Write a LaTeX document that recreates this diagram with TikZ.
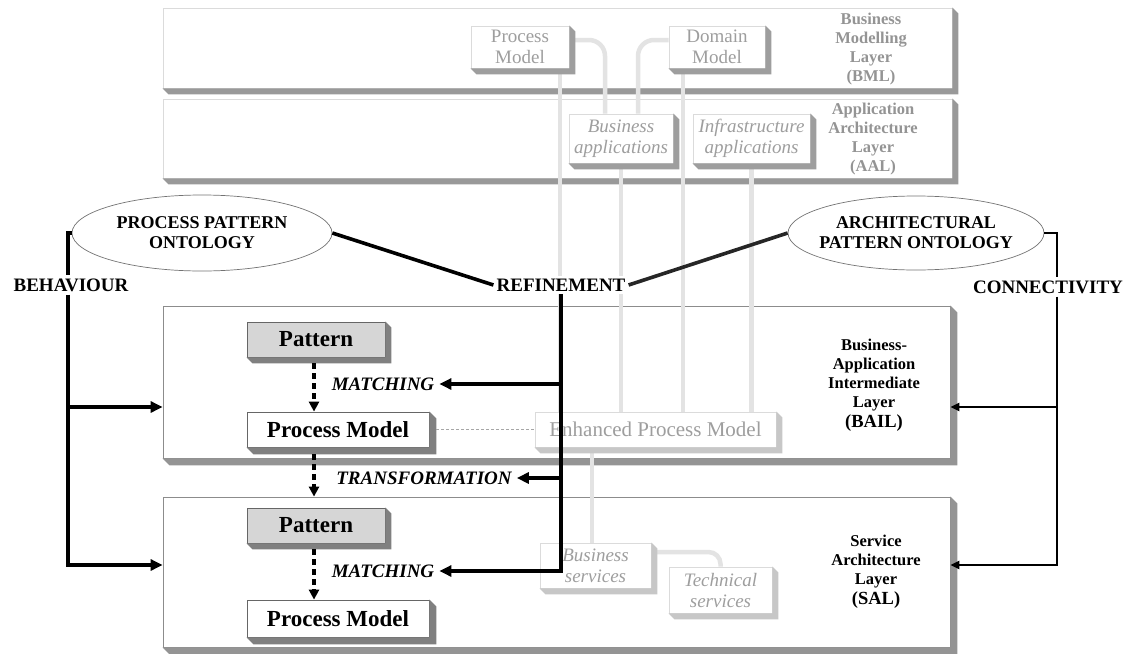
\documentclass[tikz,border=0pt]{standalone}
\usepackage{fontspec}
\setmainfont{Liberation Serif}
\usetikzlibrary{arrows.meta,shapes.geometric}
\newcommand\fsz[2]{\fontsize{#1}{#2}\selectfont}
\newcommand\mkdepth[3]{%
  \fill[#3] (#1.south west) -- ++(#2,#2) -- ([shift={(#2,#2)}]#1.south east)
    -- ([shift={(#2,#2)}]#1.north east) -- (#1.north east) -- (#1.south east) -- cycle;}
\pgfdeclarelayer{back}
\pgfdeclarelayer{mid}
\pgfsetlayers{back,mid,main}
\begin{document}
\begin{tikzpicture}[x=1pt,y=-1pt,
  fadelayer/.style={draw=black!14, line width=0.8pt, fill=white, inner sep=0pt},
  mainlayer/.style={draw=black!45, line width=0.8pt, fill=white, inner sep=0pt},
  fadebox/.style={draw=black!14, line width=0.8pt, fill=white, text=black!38, inner sep=0pt, align=center, font=\fsz{19}{21}},
  fadeit/.style={fadebox, font=\itshape\fsz{19}{21}},
  mainbox/.style={draw=black!60, line width=0.8pt, fill=white, inner sep=0pt, font=\bfseries\fsz{23}{26}},
  patbox/.style={mainbox, fill=black!16},
  onto/.style={ellipse, draw=black!55, line width=0.7pt, fill=white, inner ysep=0pt, inner xsep=-20pt, align=center, font=\bfseries\fsz{18}{20}},
  caplabel/.style={fill=white, inner sep=3pt, font=\bfseries\fsz{19}{21}},
  itlabel/.style={inner sep=5pt, font=\bfseries\itshape\fsz{19}{21}},
  layerlabel/.style={align=center, font=\bfseries\fsz{16.5}{19}},
  fadeline/.style={draw=black!11, line width=4.5pt},
  heavy/.style={draw=black, line width=3.6pt},
  heavyarrow/.style={heavy, -{Triangle[length=12pt,width=11pt]}},
  lightline/.style={draw=black, line width=2.2pt},
  lightarrow/.style={lightline, -{Triangle[length=9pt,width=8pt]}},
  dasharrow/.style={draw=black, line width=3.6pt, dash pattern=on 6pt off 4pt, -{Triangle[length=10pt,width=10pt]}},
]
\useasboundingbox (0,0) rectangle (1131,653);

% ---------- layers ----------
\begin{pgfonlayer}{back}
\node[fadelayer, minimum width=789, minimum height=80] (bml) at (557.5,48) {};
\mkdepth{bml}{6}{black!40}
\node[fadelayer, minimum width=789, minimum height=79] (aal) at (557.5,138.5) {};
\mkdepth{aal}{6}{black!40}
\node[mainlayer, minimum width=787, minimum height=152] (bail) at (556.5,382) {};
\mkdepth{bail}{7}{black!42}
\node[mainlayer, minimum width=787, minimum height=150] (sal) at (556.5,572) {};
\mkdepth{sal}{7}{black!42}
\node[layerlabel, text=black!42] (bmlL) at (871,49) {Business\\Modelling\\Layer\\(BML)};
\node[layerlabel, text=black!42] (aalL) at (873,139) {Application\\Architecture\\Layer\\(AAL)};
\node[layerlabel] (bailL) at (874,385) {Business-\\Application\\Intermediate\\Layer\\[1pt]{\fsz{18.5}{22}(BAIL)}};
\node[layerlabel] (salL) at (876,572) {Service\\Architecture\\Layer\\[1pt]{\fsz{18.5}{22}(SAL)}};
\end{pgfonlayer}

% ---------- faded boxes ----------
\node[fadebox, minimum width=98, minimum height=42] (tpm) at (520,47) {Process\\Model};
\mkdepth{tpm}{6}{black!38}
\node[fadebox, minimum width=96, minimum height=42] (tdm) at (717,47) {Domain\\Model};
\mkdepth{tdm}{6}{black!38}
\node[fadeit, minimum width=104, minimum height=49] (tba) at (621,138.5) {Business\\applications};
\mkdepth{tba}{6}{black!38}
\node[fadeit, minimum width=117, minimum height=49] (tia) at (751.5,138.5) {Infrastructure\\applications};
\mkdepth{tia}{6}{black!38}
\node[fadebox, minimum width=241, minimum height=35, font=\fsz{21}{23}] (epm) at (655.5,429.5) {Enhanced Process Model};
\mkdepth{epm}{6}{black!22}
\node[fadeit, minimum width=111, minimum height=45] (tbs) at (595.5,565.5) {Business\\services};
\mkdepth{tbs}{6}{black!22}
\node[fadeit, minimum width=103, minimum height=46] (tts) at (720.5,590) {Technical\\services};
\mkdepth{tts}{6}{black!22}

% ---------- faded connectors ----------
\coordinate (x560) at (560,0);
\coordinate (x592) at (592,0);
\coordinate (x605) at (605,0);
\coordinate (x638) at (638,0);
\coordinate (x683) at (683,0);
\begin{pgfonlayer}{mid}
\draw[fadeline, rounded corners=16pt] ([yshift=7pt]tpm.east) -| (tba.north -| x605);
\draw[fadeline, rounded corners=16pt] ([yshift=7pt]tdm.west) -| (tba.north -| x638);
\draw[fadeline] (tpm.south -| x560) -- (epm.north -| x560);
\draw[fadeline] (tba.south) -- (tba.south |- epm.north);
\draw[fadeline] (tdm.south -| x683) -- (epm.north -| x683);
\draw[fadeline] (tia.south) -- (tia.south |- epm.north);
\draw[fadeline] (epm.south -| x592) -- (tbs.north -| x592);
\draw[fadeline, rounded corners=12pt] ([yshift=13.5pt]tbs.east) -| (tts.north);
\end{pgfonlayer}

% ---------- ontologies and labels ----------
\node[onto, minimum width=260, minimum height=76] (ppo) at (202,233) {PROCESS PATTERN\\ONTOLOGY};
\node[onto, minimum width=256, minimum height=74] (apo) at (916,233) {ARCHITECTURAL\\PATTERN ONTOLOGY};
\node[caplabel] (ref) at (561,285) {REFINEMENT};
\node[caplabel] (beh) at (71,285) {BEHAVIOUR};
\node[caplabel] (conn) at (1048,287) {CONNECTIVITY};

% ---------- main boxes ----------
\node[patbox, minimum width=138, minimum height=35] (pat1) at (316,339.5) {Pattern};
\mkdepth{pat1}{6}{black!50}
\node[mainbox, minimum width=182, minimum height=35] (pm1) at (338,429.5) {Process Model};
\mkdepth{pm1}{7}{black!50}
\node[patbox, minimum width=138, minimum height=35] (pat2) at (316,525.5) {Pattern};
\mkdepth{pat2}{6}{black!50}
\node[mainbox, minimum width=182, minimum height=37] (pm2) at (338,618.5) {Process Model};
\mkdepth{pm2}{7}{black!50}

\draw[draw=black!35, line width=1pt, dash pattern=on 3pt off 2pt] ([xshift=7pt]pm1.east) -- (epm.west);

\node[itlabel] (m1) at (383,384) {MATCHING};
\node[itlabel] (tr) at (424,478) {TRANSFORMATION};
\node[itlabel] (m2) at (383,571) {MATCHING};

\coordinate (x314) at (314,0);
\draw[dasharrow, shorten <=6pt] (pat1.south -| x314) -- (pm1.north -| x314);
\draw[dasharrow, shorten <=7pt] (pm1.south -| x314) -- (sal.north -| x314);
\draw[dasharrow, shorten <=6pt] (pat2.south -| x314) -- (pm2.north -| x314);

% ---------- refinement ----------
\draw[heavy] (ppo.east) -- (ref.west);
\draw[heavy, draw=black!85] (apo.west) -- (ref.east);
\draw[heavyarrow] (ref.south) -- (ref.south |- m2.east) -- (m2.east);
\draw[heavyarrow] (ref.south |- m1.east) -- (m1.east);
\draw[heavyarrow] (ref.south |- tr.east) -- (tr.east);

% ---------- behaviour ----------
\coordinate (bt) at (68,233);
\coordinate (bm) at (68,407);
\coordinate (bb) at (68,565);
\draw[heavy] (ppo.west) -- (bt) -- (bt |- beh.north);
\draw[heavyarrow] (bt |- beh.south) -- (bb) -- (bb -| sal.west);
\draw[heavyarrow] (bm) -- (bm -| bail.west);

% ---------- connectivity ----------
\coordinate (ct) at (1057,233);
\coordinate (cm) at (1057,407);
\coordinate (cb) at (1057,565);
\draw[lightline] (apo.east) -- (ct) -- (ct |- conn.north);
\draw[lightarrow] (ct |- conn.south) -- (cb) -- (cb -| sal.east);
\draw[lightarrow] (cm) -- (cm -| bail.east);
\end{tikzpicture}
\end{document}
